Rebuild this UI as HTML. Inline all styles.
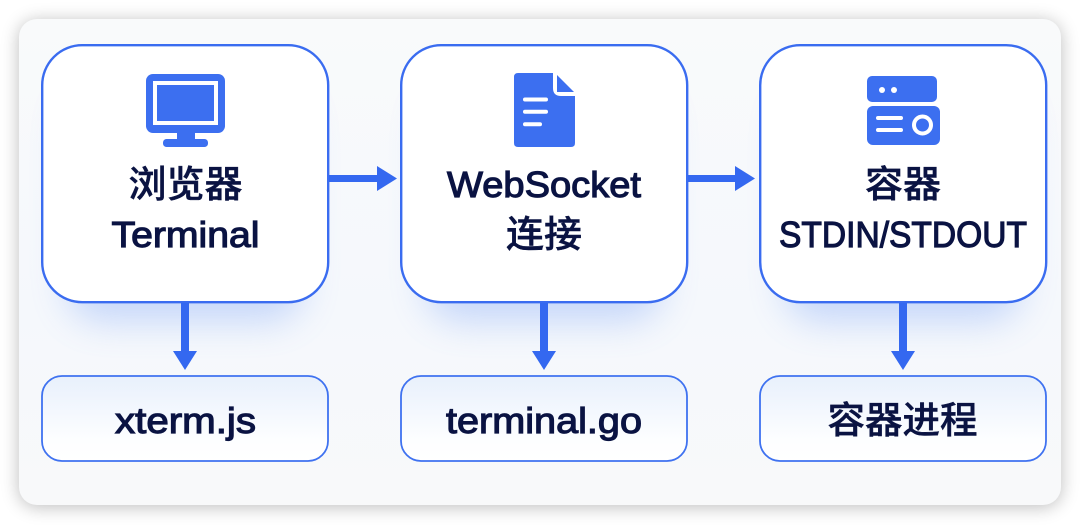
<!DOCTYPE html>
<html><head><meta charset="utf-8"><style>
html,body{margin:0;padding:0;background:#fff;width:1080px;height:525px;overflow:hidden}
svg{display:block}
text{font-family:"Liberation Sans","Noto Sans CJK SC",sans-serif;fill:#0a1342;text-anchor:middle}
.l{font-size:36px;stroke:#0a1342;stroke-width:1.15px}
.c{font-size:37px;font-weight:500;font-family:"Noto Sans CJK SC","Liberation Sans",sans-serif;stroke:#0a1342;stroke-width:.45px}
</style></head><body>
<svg width="1080" height="525" viewBox="0 0 1080 525" xmlns="http://www.w3.org/2000/svg">
<defs>
<filter id="ps" x="-5%" y="-10%" width="110%" height="120%"><feGaussianBlur stdDeviation="9"/></filter>
<filter id="gl" x="-30%" y="-30%" width="160%" height="170%"><feGaussianBlur stdDeviation="18"/></filter>
<linearGradient id="sb" x1="0" y1="0" x2="0" y2="1"><stop offset="0" stop-color="#e8f0fc"/><stop offset=".75" stop-color="#fdfeff"/><stop offset="1" stop-color="#fff"/></linearGradient>
<linearGradient id="pg" x1="0" y1="0" x2="0" y2="1"><stop offset="0" stop-color="#f9fafb"/><stop offset=".6" stop-color="#f5f8fc"/><stop offset="1" stop-color="#f8f9fa"/></linearGradient>
</defs>
<rect x="19" y="21" width="1042" height="486" rx="18" fill="#000" opacity=".26" filter="url(#ps)"/>
<rect x="19" y="19" width="1042" height="486" rx="18" fill="url(#pg)"/>

<g fill="#5b8cf5" opacity=".3" filter="url(#gl)">
<rect x="66" y="90" width="238" height="232" rx="36"/>
<rect x="425" y="90" width="238" height="232" rx="36"/>
<rect x="784" y="90" width="238" height="232" rx="36"/>
</g>

<g fill="#fff" stroke="#3a6cf0" stroke-width="2.4">
<rect x="42.2" y="45.2" width="286" height="257" rx="40"/>
<rect x="401.2" y="45.2" width="286" height="257" rx="40"/>
<rect x="760.2" y="45.2" width="286" height="257" rx="40"/>
</g>
<g fill="url(#sb)" stroke="#3f72f0" stroke-width="1.8">
<rect x="42" y="376" width="286" height="85" rx="20"/>
<rect x="401" y="376" width="286" height="85" rx="20"/>
<rect x="760" y="376" width="286" height="85" rx="20"/>
</g>

<!-- arrows -->
<g fill="#3468f0">
<rect x="329" y="175" width="50" height="7"/><path d="M377 166L397 178.500L377 191Z"/>
<rect x="688" y="175" width="49" height="7"/><path d="M735 166L755 178.500L735 191Z"/>
<rect x="181" y="303" width="8" height="50"/><path d="M173 351H197L185 370Z"/>
<rect x="540" y="303" width="8" height="50"/><path d="M532 351H556L544 370Z"/>
<rect x="899" y="303" width="8" height="50"/><path d="M891 351H915L903 370Z"/>
</g>

<!-- monitor -->
<g fill="#3c6ff0">
<rect x="146" y="74" width="79" height="59" rx="7"/>
<rect x="177" y="132" width="18" height="8"/>
<rect x="163" y="139" width="45" height="8" rx="3.500"/>
</g>
<rect x="155" y="83" width="61" height="40" fill="#3c6ff0" stroke="#fff" stroke-width="4"/>

<!-- document -->
<path d="M518 73H553V88Q553 96 561 96H575V143Q575 147 571 147H518Q514 147 514 143V77Q514 73 518 73Z" fill="#3c6ff0"/>
<path d="M557 75L574 92H557Z" fill="#3c6ff0"/>
<g stroke="#fff" stroke-width="4" stroke-linecap="round">
<path d="M525 99.500H546M525 111.700H546M525 124.300H540"/>
</g>

<!-- server -->
<rect x="867" y="76" width="70" height="26" rx="5" fill="#3c6ff0"/>
<rect x="867" y="106" width="73" height="39" rx="6" fill="#3c6ff0"/>
<circle cx="882" cy="90" r="3" fill="#fff"/><circle cx="894" cy="90" r="3" fill="#fff"/>
<g stroke="#fff" stroke-width="4" stroke-linecap="round"><path d="M878 118H901M878 130H901"/></g>
<circle cx="922.500" cy="125" r="8.500" fill="none" stroke="#fff" stroke-width="4"/>

<!-- labels -->
<text class="c" x="185.500" y="197" textLength="114" lengthAdjust="spacingAndGlyphs">浏览器</text>
<text class="l" x="185.500" y="247" textLength="148" lengthAdjust="spacingAndGlyphs">Terminal</text>
<text class="l" x="544" y="197" textLength="194" lengthAdjust="spacingAndGlyphs">WebSocket</text>
<text class="c" x="544" y="247" textLength="76" lengthAdjust="spacingAndGlyphs">连接</text>
<text class="c" x="903" y="197" textLength="76" lengthAdjust="spacingAndGlyphs">容器</text>
<text class="l" x="903" y="247" textLength="248" lengthAdjust="spacingAndGlyphs">STDIN/STDOUT</text>
<text class="l" x="185.500" y="433" textLength="141" lengthAdjust="spacingAndGlyphs">xterm.js</text>
<text class="l" x="544" y="433" textLength="196" lengthAdjust="spacingAndGlyphs">terminal.go</text>
<text class="c" x="902.500" y="433" textLength="150" lengthAdjust="spacingAndGlyphs">容器进程</text>
</svg>
</body></html>
